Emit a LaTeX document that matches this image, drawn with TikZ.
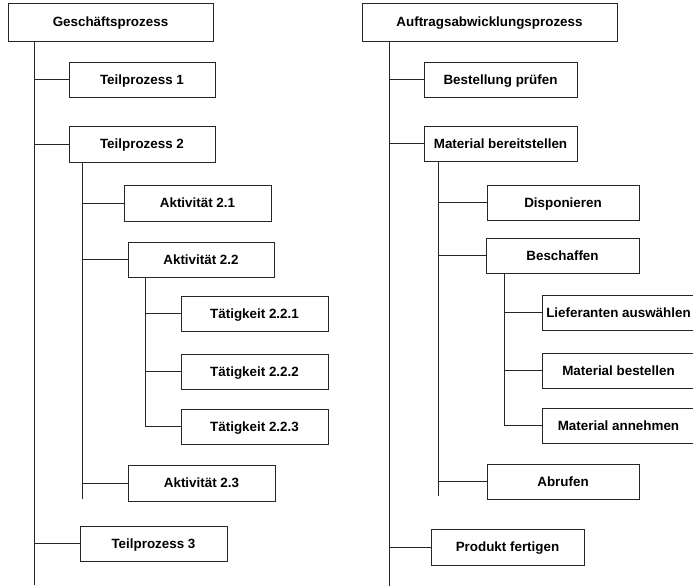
\documentclass[tikz,border=0pt]{standalone}
\usepackage{fontspec}
\setmainfont{Liberation Sans}
\begin{document}
\begin{tikzpicture}[x=1pt,y=-1pt,
  box/.style={draw=black!85,line width=0.9pt,fill=white,inner sep=0pt,
    text height=9.6pt,text depth=0pt,
    minimum width=146pt,minimum height=35pt,font=\fontsize{13.4}{15}\selectfont\bfseries},
  topbox/.style={box,minimum height=38pt},
  conn/.style={draw=black!85,line width=0.9pt}]
\useasboundingbox (0,0) rectangle (693,587);
\clip (0,0) rectangle (693,587);
\fill[white] (0,0) rectangle (693,587);
% left tree
\node[topbox,minimum width=205pt] (G) at (110.5,22) {Geschäftsprozess};
\node[box] (T1) at (142,79.5) {Teilprozess 1};
\node[box,minimum height=36pt] (T2) at (142,144) {Teilprozess 2};
\node[box,minimum width=147pt,minimum height=36pt] (A21) at (197.5,203) {Aktivität 2.1};
\node[box] (A22) at (201,259.5) {Aktivität 2.2};
\node[box,minimum width=147pt] (T221) at (254.5,313.5) {Tätigkeit 2.2.1};
\node[box,minimum width=147pt] (T222) at (254.5,371.5) {Tätigkeit 2.2.2};
\node[box,minimum width=147pt] (T223) at (254.5,426.5) {Tätigkeit 2.2.3};
\node[box,minimum width=147pt,minimum height=36pt] (A23) at (201.5,483) {Aktivität 2.3};
\node[box,minimum width=147pt] (T3) at (153.5,543.5) {Teilprozess 3};
\coordinate (gl) at (34,585);
\coordinate (t2l) at (82,499);
\coordinate (a22l) at (145,426.5);
\draw[conn] (G.south -| gl) -- (gl);
\draw[conn] (T2.south -| t2l) -- (t2l);
\draw[conn] (A22.south -| a22l) -- (a22l);
\foreach \n in {T1,T2,T3} \draw[conn] (\n.west -| gl) -- (\n.west);
\foreach \n in {A21,A22,A23} \draw[conn] (\n.west -| t2l) -- (\n.west);
\foreach \n in {T221,T222,T223} \draw[conn] (\n.west -| a22l) -- (\n.west);
% right tree
\node[topbox,minimum width=255pt] (AP) at (489.5,22) {Auftragsabwicklungsprozess};
\node[box,minimum width=153pt] (BP) at (500.5,79.5) {Bestellung prüfen};
\node[box,minimum width=153pt] (MB) at (500.5,143.5) {Material bereitstellen};
\node[box,minimum width=152pt] (D) at (563,202.5) {Disponieren};
\node[box,minimum width=153pt] (B) at (562.5,255.5) {Beschaffen};
\node[box,minimum width=153pt] (LA) at (618.5,312.5) {Lieferanten auswählen};
\node[box,minimum width=153pt] (MBe) at (618.5,370.5) {Material bestellen};
\node[box,minimum width=153pt] (MA) at (618.5,425.5) {Material annehmen};
\node[box,minimum width=152pt] (Ab) at (563,481.5) {Abrufen};
\node[box,minimum width=153pt,minimum height=36pt] (PF) at (507.5,547) {Produkt fertigen};
\coordinate (apl) at (389,586);
\coordinate (mbl) at (438,496);
\coordinate (bl) at (504,425.5);
\draw[conn] (AP.south -| apl) -- (apl);
\draw[conn] (MB.south -| mbl) -- (mbl);
\draw[conn] (B.south -| bl) -- (bl);
\foreach \n in {BP,MB,PF} \draw[conn] (\n.west -| apl) -- (\n.west);
\foreach \n in {D,B,Ab} \draw[conn] (\n.west -| mbl) -- (\n.west);
\foreach \n in {LA,MBe,MA} \draw[conn] (\n.west -| bl) -- (\n.west);
\end{tikzpicture}
\end{document}
